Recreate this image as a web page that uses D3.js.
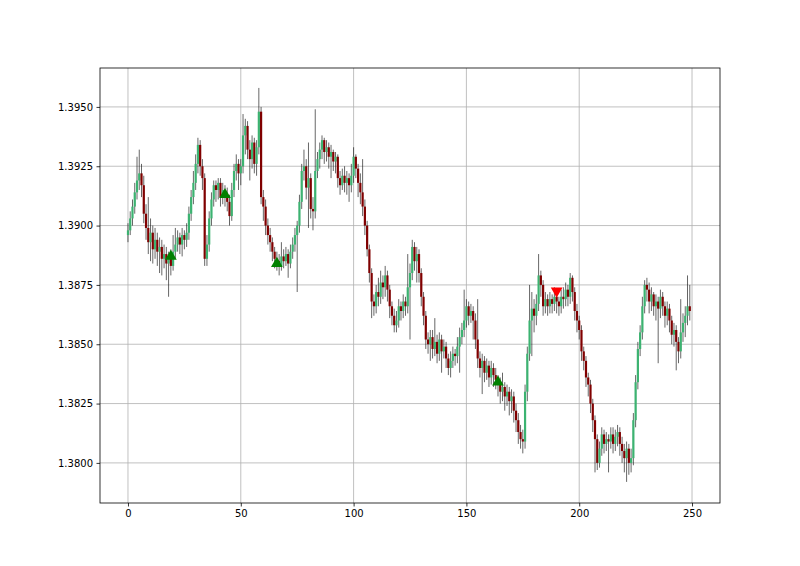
<!DOCTYPE html>
<html>
<head>
<meta charset="utf-8">
<script src="https://cdn.jsdelivr.net/npm/d3@7"></script>
<style>
html,body{margin:0;padding:0;background:#fff;}
svg{display:block;font-family:"DejaVu Sans",sans-serif;}
</style>
</head>
<body>
<svg id="chart" width="800" height="566"></svg>
<script>
const opens = [1.3896,1.3898,1.3903,1.3908,1.3914,1.3919,1.3922,1.3917,1.3905,1.3899,
1.3893,1.3897,1.3890,1.3894,1.3889,1.3891,1.3886,1.3888,1.3884,1.3886,
1.3883,1.3889,1.3892,1.3895,1.3892,1.3896,1.3894,1.3897,1.3905,1.3912,
1.3918,1.3926,1.3934,1.3925,1.3920,1.3886,1.3892,1.3903,1.3911,1.3917,
1.3915,1.3918,1.3912,1.3915,1.3913,1.3910,1.3904,1.3915,1.3923,1.3926,
1.3922,1.3925,1.3938,1.3942,1.3932,1.3928,1.3935,1.3926,1.3933,1.3948,
1.3912,1.3908,1.3900,1.3896,1.3893,1.3889,1.3886,1.3885,1.3883,1.3887,
1.3885,1.3888,1.3884,1.3889,1.3892,1.3896,1.3900,1.3910,1.3923,1.3925,
1.3916,1.3920,1.3907,1.3906,1.3923,1.3928,1.3932,1.3936,1.3931,1.3933,
1.3929,1.3931,1.3927,1.3929,1.3920,1.3917,1.3921,1.3918,1.3920,1.3917,
1.3921,1.3929,1.3924,1.3918,1.3914,1.3908,1.3900,1.3890,1.3880,1.3868,
1.3866,1.3872,1.3870,1.3876,1.3874,1.3879,1.3873,1.3866,1.3862,1.3858,
1.3860,1.3866,1.3864,1.3868,1.3866,1.3874,1.3880,1.3891,1.3885,1.3888,
1.3880,1.3870,1.3862,1.3852,1.3850,1.3853,1.3848,1.3851,1.3846,1.3852,
1.3847,1.3849,1.3844,1.3840,1.3843,1.3846,1.3845,1.3849,1.3853,1.3856,
1.3860,1.3866,1.3862,1.3864,1.3860,1.3852,1.3844,1.3840,1.3843,1.3838,
1.3841,1.3836,1.3840,1.3837,1.3835,1.3833,1.3830,1.3832,1.3828,1.3830,
1.3826,1.3828,1.3822,1.3818,1.3813,1.3810,1.3809,1.3830,1.3846,1.3860,
1.3865,1.3862,1.3867,1.3879,1.3875,1.3866,1.3869,1.3866,1.3869,1.3867,
1.3870,1.3868,1.3866,1.3870,1.3869,1.3873,1.3870,1.3878,1.3872,1.3864,
1.3860,1.3856,1.3847,1.3843,1.3836,1.3833,1.3825,1.3818,1.3810,1.3800,
1.3806,1.3812,1.3808,1.3810,1.3809,1.3812,1.3808,1.3811,1.3813,1.3808,
1.3805,1.3802,1.3806,1.3800,1.3802,1.3818,1.3834,1.3848,1.3855,1.3866,
1.3875,1.3873,1.3868,1.3871,1.3866,1.3868,1.3865,1.3870,1.3866,1.3862,
1.3865,1.3860,1.3854,1.3856,1.3851,1.3847,1.3855,1.3859,1.3862,1.3866];

const closes = [1.3898,1.3903,1.3908,1.3914,1.3919,1.3922,1.3917,1.3905,1.3899,1.3893,
1.3897,1.3890,1.3894,1.3889,1.3891,1.3886,1.3888,1.3884,1.3886,1.3883,
1.3889,1.3892,1.3895,1.3892,1.3896,1.3894,1.3897,1.3905,1.3912,1.3918,
1.3926,1.3934,1.3925,1.3920,1.3886,1.3892,1.3903,1.3911,1.3917,1.3915,
1.3918,1.3912,1.3915,1.3913,1.3910,1.3904,1.3915,1.3923,1.3926,1.3922,
1.3925,1.3938,1.3942,1.3932,1.3928,1.3935,1.3926,1.3933,1.3948,1.3912,
1.3908,1.3900,1.3896,1.3893,1.3889,1.3886,1.3885,1.3883,1.3887,1.3885,
1.3888,1.3884,1.3889,1.3892,1.3896,1.3900,1.3910,1.3923,1.3925,1.3916,
1.3920,1.3907,1.3906,1.3923,1.3928,1.3932,1.3936,1.3931,1.3933,1.3929,
1.3931,1.3927,1.3929,1.3920,1.3917,1.3921,1.3918,1.3920,1.3917,1.3921,
1.3929,1.3924,1.3918,1.3914,1.3908,1.3900,1.3890,1.3880,1.3868,1.3866,
1.3872,1.3870,1.3876,1.3874,1.3879,1.3873,1.3866,1.3862,1.3858,1.3860,
1.3866,1.3864,1.3868,1.3866,1.3874,1.3880,1.3891,1.3885,1.3888,1.3880,
1.3870,1.3862,1.3852,1.3850,1.3853,1.3848,1.3851,1.3846,1.3852,1.3847,
1.3849,1.3844,1.3840,1.3843,1.3846,1.3845,1.3849,1.3853,1.3856,1.3860,
1.3866,1.3862,1.3864,1.3860,1.3852,1.3844,1.3840,1.3843,1.3838,1.3841,
1.3836,1.3840,1.3837,1.3835,1.3833,1.3830,1.3832,1.3828,1.3830,1.3826,
1.3828,1.3822,1.3818,1.3813,1.3810,1.3809,1.3830,1.3846,1.3860,1.3865,
1.3862,1.3867,1.3879,1.3875,1.3866,1.3869,1.3866,1.3869,1.3867,1.3870,
1.3868,1.3866,1.3870,1.3869,1.3873,1.3870,1.3878,1.3872,1.3864,1.3860,
1.3856,1.3847,1.3843,1.3836,1.3833,1.3825,1.3818,1.3810,1.3800,1.3806,
1.3812,1.3808,1.3810,1.3809,1.3812,1.3808,1.3811,1.3813,1.3808,1.3805,
1.3802,1.3806,1.3800,1.3802,1.3818,1.3834,1.3848,1.3855,1.3866,1.3875,
1.3873,1.3868,1.3871,1.3866,1.3868,1.3865,1.3870,1.3866,1.3862,1.3865,
1.3860,1.3854,1.3856,1.3851,1.3847,1.3855,1.3859,1.3862,1.3866,1.3864];

const highs = [1.3901,1.3906,1.3911,1.3918,1.3929,1.3932,1.3926,1.3921,1.3909,1.3912,
1.3903,1.3900,1.3899,1.3897,1.3895,1.3894,1.3892,1.3891,1.3889,1.3890,
1.3896,1.3899,1.3898,1.3897,1.3899,1.3898,1.3901,1.3908,1.3915,1.3923,
1.3930,1.3937,1.3936,1.3928,1.3922,1.3896,1.3906,1.3914,1.3919,1.3919,
1.3920,1.3920,1.3918,1.3917,1.3916,1.3913,1.3918,1.3926,1.3930,1.3928,
1.3928,1.3947,1.3945,1.3944,1.3936,1.3938,1.3937,1.3936,1.3958,1.3950,
1.3915,1.3911,1.3903,1.3899,1.3895,1.3891,1.3889,1.3888,1.3893,1.3890,
1.3891,1.3890,1.3892,1.3895,1.3899,1.3902,1.3913,1.3926,1.3932,1.3928,
1.3935,1.3922,1.3912,1.3949,1.3931,1.3935,1.3938,1.3937,1.3936,1.3935,
1.3934,1.3932,1.3931,1.3930,1.3923,1.3924,1.3925,1.3923,1.3922,1.3926,
1.3933,1.3930,1.3926,1.3922,1.3928,1.3911,1.3902,1.3892,1.3882,1.3871,
1.3875,1.3878,1.3881,1.3879,1.3883,1.3881,1.3875,1.3868,1.3865,1.3864,
1.3869,1.3868,1.3871,1.3870,1.3888,1.3884,1.3894,1.3893,1.3891,1.3890,
1.3882,1.3872,1.3864,1.3855,1.3856,1.3856,1.3861,1.3854,1.3855,1.3854,
1.3852,1.3851,1.3846,1.3847,1.3849,1.3848,1.3853,1.3857,1.3859,1.3873,
1.3869,1.3868,1.3867,1.3866,1.3863,1.3869,1.3847,1.3846,1.3845,1.3844,
1.3843,1.3843,1.3842,1.3840,1.3837,1.3836,1.3838,1.3834,1.3833,1.3832,
1.3831,1.3830,1.3825,1.3821,1.3816,1.3814,1.3833,1.3849,1.3875,1.3872,
1.3869,1.3871,1.3888,1.3881,1.3877,1.3872,1.3871,1.3872,1.3871,1.3874,
1.3872,1.3870,1.3873,1.3874,1.3876,1.3875,1.3880,1.3879,1.3874,1.3867,
1.3862,1.3858,1.3849,1.3845,1.3838,1.3835,1.3827,1.3820,1.3812,1.3809,
1.3815,1.3814,1.3813,1.3812,1.3815,1.3815,1.3814,1.3816,1.3815,1.3811,
1.3808,1.3809,1.3808,1.3806,1.3821,1.3837,1.3851,1.3858,1.3870,1.3877,
1.3878,1.3876,1.3874,1.3872,1.3871,1.3870,1.3873,1.3872,1.3868,1.3868,
1.3867,1.3862,1.3859,1.3858,1.3853,1.3869,1.3863,1.3866,1.3879,1.3875];

const lows = [1.3893,1.3896,1.3900,1.3905,1.3911,1.3915,1.3912,1.3901,1.3894,1.3888,
1.3885,1.3884,1.3886,1.3883,1.3880,1.3879,1.3882,1.3877,1.3870,1.3879,
1.3881,1.3886,1.3889,1.3888,1.3887,1.3890,1.3891,1.3894,1.3902,1.3909,
1.3915,1.3922,1.3921,1.3915,1.3883,1.3883,1.3889,1.3900,1.3908,1.3910,
1.3911,1.3908,1.3909,1.3908,1.3906,1.3900,1.3902,1.3912,1.3919,1.3915,
1.3917,1.3922,1.3930,1.3928,1.3919,1.3924,1.3922,1.3921,1.3930,1.3909,
1.3902,1.3896,1.3892,1.3889,1.3885,1.3882,1.3881,1.3879,1.3881,1.3882,
1.3883,1.3878,1.3882,1.3886,1.3889,1.3872,1.3897,1.3907,1.3919,1.3911,
1.3899,1.3903,1.3898,1.3903,1.3920,1.3924,1.3928,1.3926,1.3927,1.3924,
1.3920,1.3923,1.3922,1.3916,1.3913,1.3915,1.3914,1.3913,1.3910,1.3914,
1.3918,1.3920,1.3912,1.3909,1.3904,1.3896,1.3887,1.3876,1.3861,1.3862,
1.3863,1.3866,1.3867,1.3869,1.3870,1.3868,1.3861,1.3858,1.3855,1.3855,
1.3857,1.3860,1.3861,1.3862,1.3863,1.3852,1.3877,1.3881,1.3876,1.3876,
1.3866,1.3858,1.3848,1.3846,1.3843,1.3844,1.3845,1.3842,1.3843,1.3838,
1.3844,1.3840,1.3837,1.3836,1.3840,1.3841,1.3842,1.3838,1.3850,1.3853,
1.3857,1.3858,1.3859,1.3852,1.3848,1.3840,1.3836,1.3829,1.3834,1.3835,
1.3832,1.3833,1.3832,1.3831,1.3828,1.3825,1.3826,1.3822,1.3824,1.3820,
1.3821,1.3817,1.3813,1.3808,1.3806,1.3804,1.3806,1.3826,1.3843,1.3845,
1.3855,1.3858,1.3864,1.3870,1.3862,1.3863,1.3862,1.3863,1.3863,1.3864,
1.3863,1.3862,1.3863,1.3865,1.3866,1.3866,1.3867,1.3868,1.3860,1.3855,
1.3852,1.3843,1.3839,1.3832,1.3828,1.3821,1.3813,1.3796,1.3797,1.3798,
1.3803,1.3804,1.3805,1.3796,1.3806,1.3804,1.3805,1.3807,1.3803,1.3800,
1.3796,1.3792,1.3795,1.3796,1.3799,1.3815,1.3831,1.3845,1.3852,1.3863,
1.3868,1.3863,1.3864,1.3862,1.3860,1.3842,1.3861,1.3862,1.3857,1.3858,
1.3855,1.3850,1.3849,1.3839,1.3842,1.3844,1.3851,1.3853,1.3858,1.3860];

// signal markers
const buyIdx = [19, 43, 66, 164];
const buyPrice = [1.3887, 1.3913, 1.3884, 1.3834];
const sellIdx = [190];
const sellPrice = [1.38725];

const xTicks = [0, 50, 100, 150, 200, 250];
const yTicks = [1.3800, 1.3825, 1.3850, 1.3875, 1.3900, 1.3925, 1.3950];

const svg = d3.select("#chart");
const L = 100, R = 720, T = 68, B = 503;

const x = d3.scaleLinear().domain([-12.4, 262.4]).range([L, R]);
const y = d3.scaleLinear().domain([1.37831, 1.39664]).range([B, T]);

const data = closes.map((c, i) => ({i, o: opens[i], h: highs[i], l: lows[i], c}));

// grid
const g = svg.append("g");
g.selectAll("line.gx").data(xTicks).join("line")
  .attr("x1", d => x(d)).attr("x2", d => x(d)).attr("y1", T).attr("y2", B)
  .attr("stroke", "#b0b0b0").attr("stroke-width", 0.8);
g.selectAll("line.gy").data(yTicks).join("line")
  .attr("x1", L).attr("x2", R).attr("y1", d => y(d)).attr("y2", d => y(d))
  .attr("stroke", "#b0b0b0").attr("stroke-width", 0.8);

const plot = svg.append("g");
// clip
svg.append("clipPath").attr("id", "clip").append("rect")
  .attr("x", L).attr("y", T).attr("width", R - L).attr("height", B - T);
plot.attr("clip-path", "url(#clip)");

// wicks
plot.selectAll("line.wick").data(data).join("line")
  .attr("x1", d => x(d.i)).attr("x2", d => x(d.i))
  .attr("y1", d => y(d.h)).attr("y2", d => y(d.l))
  .attr("stroke", "#000").attr("stroke-opacity", 0.6).attr("stroke-width", 1);

// bodies
const bw = 2.2;
plot.selectAll("rect.body").data(data).join("rect")
  .attr("x", d => x(d.i) - bw / 2)
  .attr("width", bw)
  .attr("y", d => y(Math.max(d.o, d.c)))
  .attr("height", d => Math.max(1, Math.abs(y(d.o) - y(d.c))))
  .attr("fill", d => d.c >= d.o ? "#3cb371" : "#800000");

// markers
const tri = d3.symbol().type(d3.symbolTriangle).size(60);
plot.selectAll("path.buy").data(buyIdx).join("path")
  .attr("d", tri)
  .attr("transform", (d, k) => `translate(${x(d)},${y(buyPrice[k])})`)
  .attr("fill", "#008000");
plot.selectAll("path.sell").data(sellIdx).join("path")
  .attr("d", tri)
  .attr("transform", (d, k) => `translate(${x(d)},${y(sellPrice[k])}) rotate(180)`)
  .attr("fill", "#ff0000");

// axes
const xAxis = d3.axisBottom(x).tickValues(xTicks).tickSize(3.5).tickPadding(3.5).tickFormat(d3.format("d"));
const yAxis = d3.axisLeft(y).tickValues(yTicks).tickSize(3.5).tickPadding(3.5).tickFormat(d3.format(".4f"));
const gx = svg.append("g").attr("transform", `translate(0,${B})`).call(xAxis);
const gy = svg.append("g").attr("transform", `translate(${L},0)`).call(yAxis);
[gx, gy].forEach(a => {
  a.select(".domain").remove();
  a.selectAll("text").attr("font-size", 10).attr("fill", "#000").attr("font-family", "DejaVu Sans");
  a.selectAll("line").attr("stroke", "#000").attr("stroke-width", 0.8);
});

// frame
svg.append("rect").attr("x", L).attr("y", T).attr("width", R - L).attr("height", B - T)
  .attr("fill", "none").attr("stroke", "#000").attr("stroke-width", 0.8);
</script>
</body>
</html>
